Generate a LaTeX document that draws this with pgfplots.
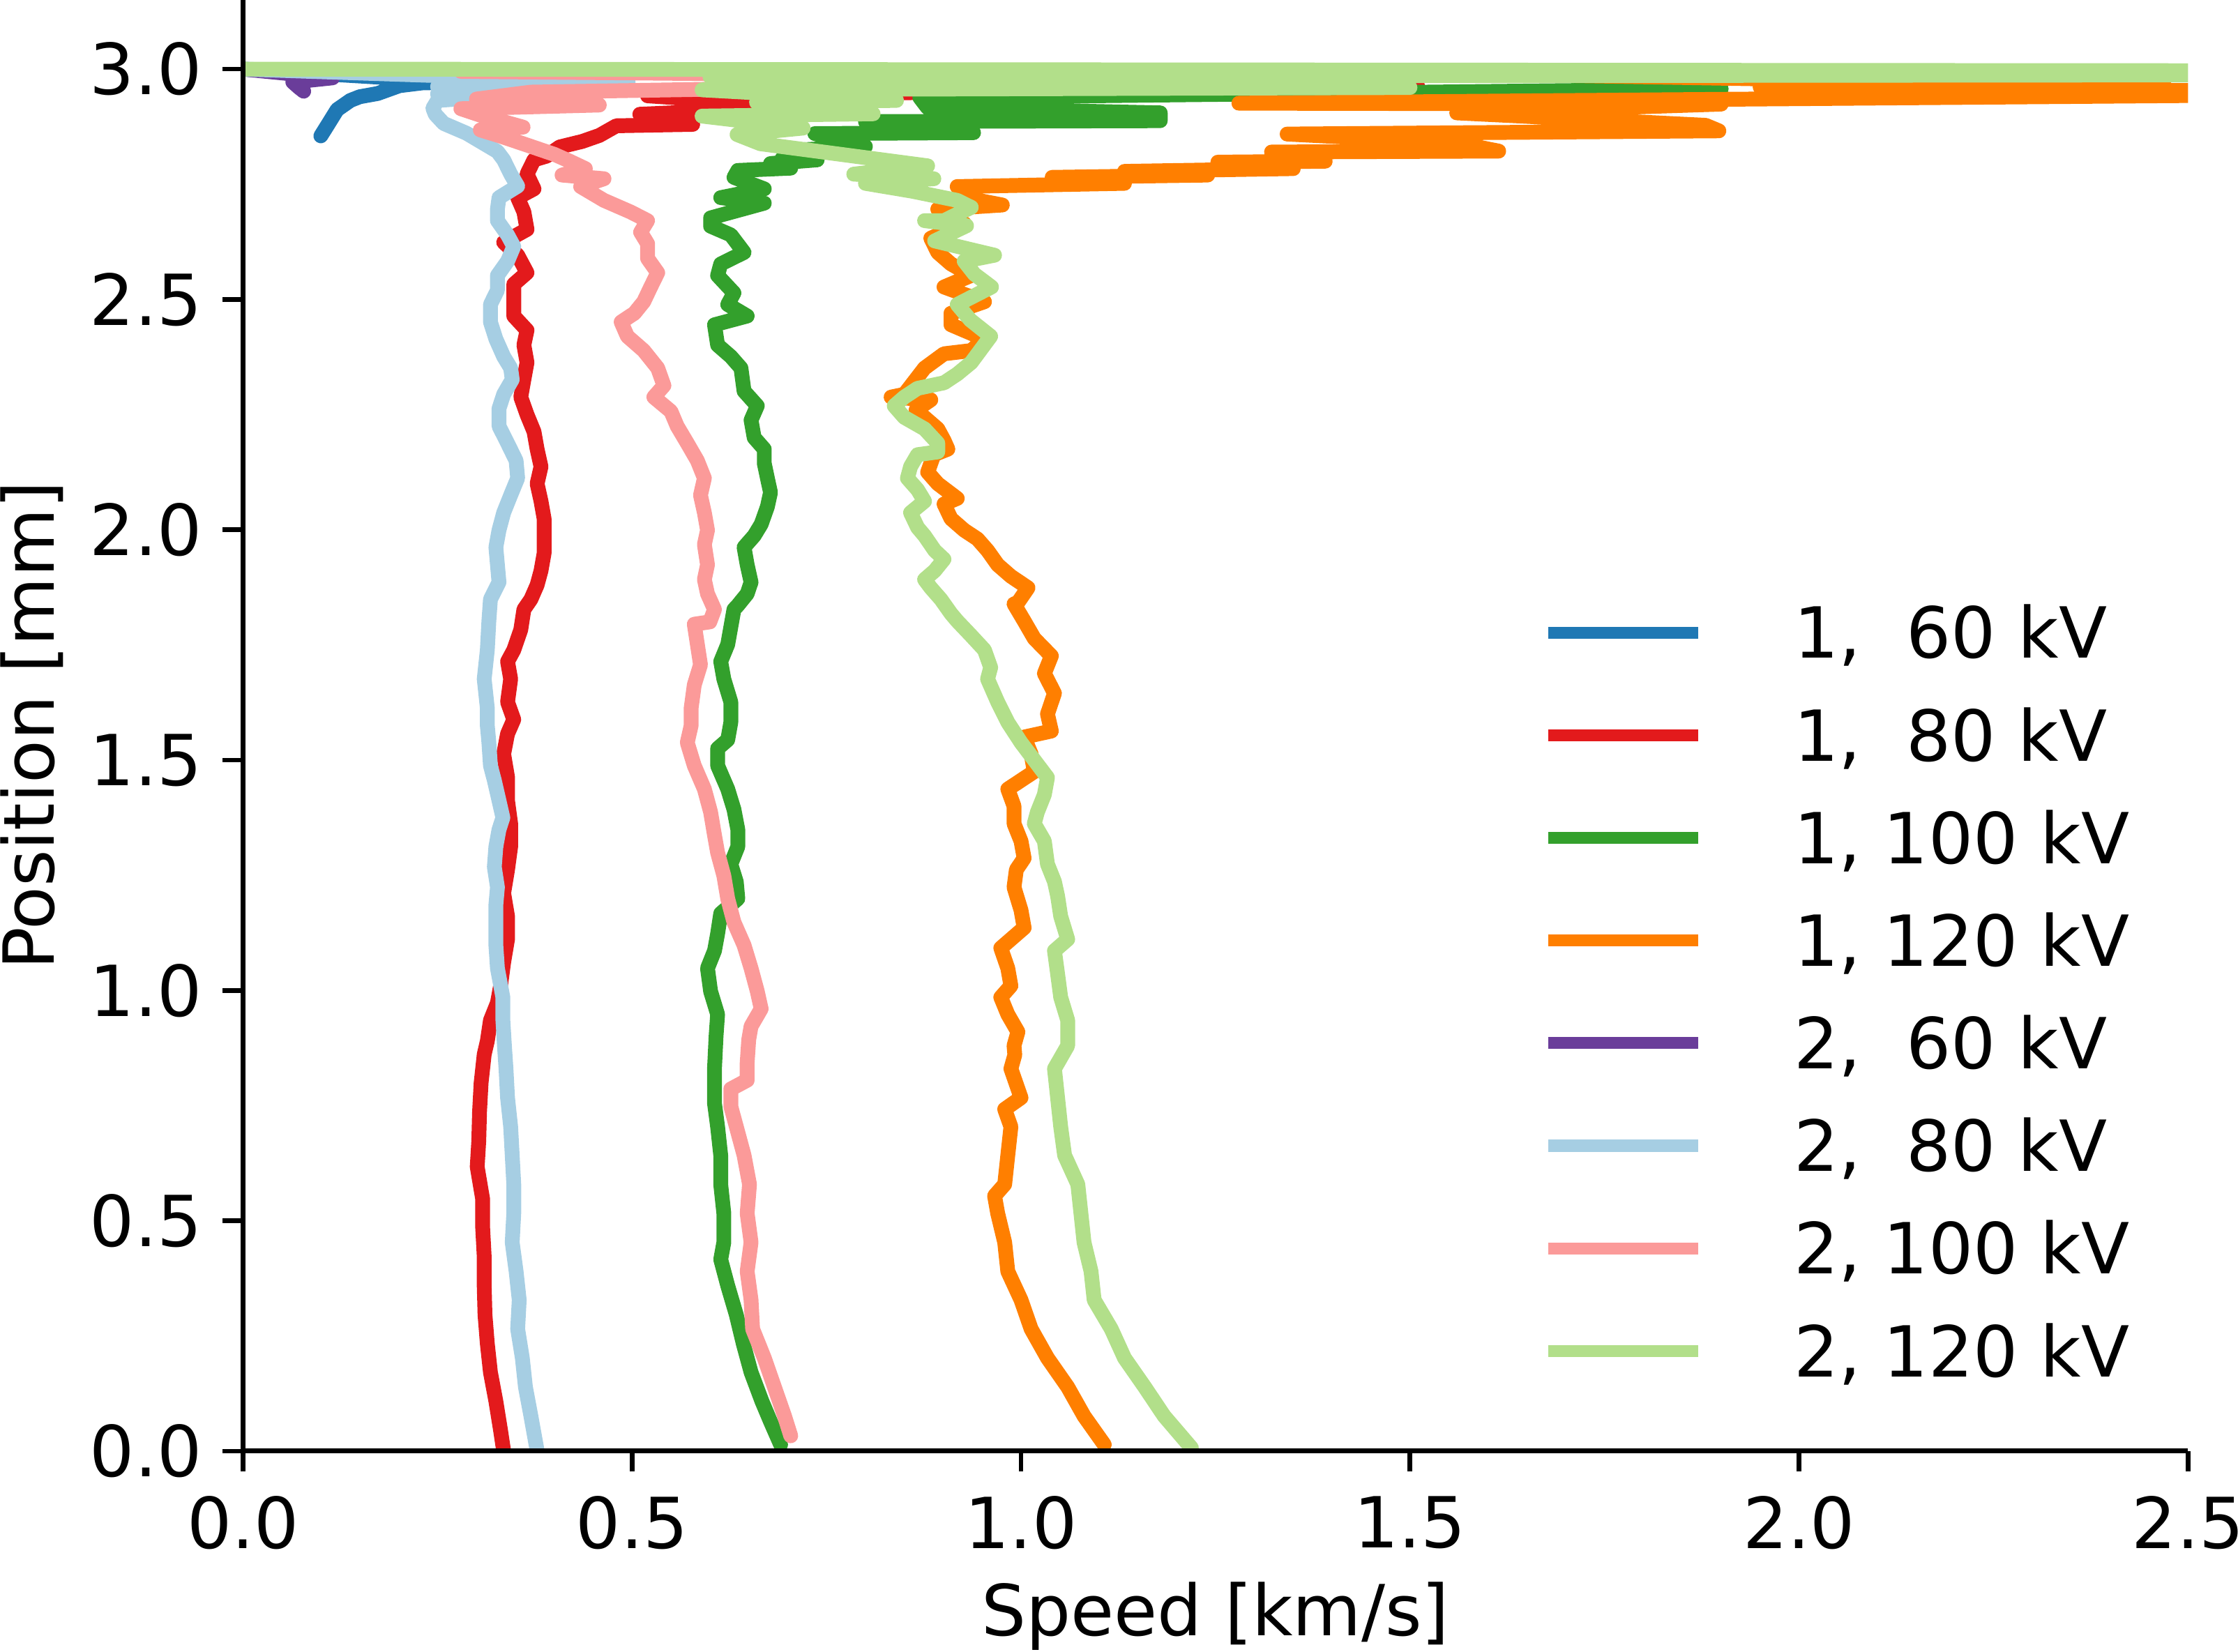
\documentclass[border=0pt]{standalone}
\usepackage{fontspec}
\setmainfont{DejaVu Sans}
\usepackage{pgfplots}
\pgfplotsset{compat=1.18}
\definecolor{c1}{HTML}{1F78B4}
\definecolor{c2}{HTML}{E31A1C}
\definecolor{c3}{HTML}{33A02C}
\definecolor{c4}{HTML}{FF7F00}
\definecolor{c5}{HTML}{6A3D9A}
\definecolor{c6}{HTML}{A6CEE3}
\definecolor{c7}{HTML}{FB9A99}
\definecolor{c8}{HTML}{B2DF8A}
\begin{document}
\begin{tikzpicture}
\begin{axis}[
  name=ax,
  width=276.1pt, height=206pt, scale only axis,
  xmin=0, xmax=2.5, ymin=0, ymax=3.15,
  axis x line*=bottom, axis y line*=left,
  axis on top,
  xtick={0,0.5,1,1.5,2,2.5}, ytick={0,0.5,1,1.5,2,2.5,3},
  tick align=outside, major tick length=2.9pt,
  every tick/.style={black, line width=0.65pt},
  axis line style={line width=0.67pt},
  /pgf/number format/assume math mode=true,
  xticklabel style={/pgf/number format/fixed, /pgf/number format/fixed zerofill, /pgf/number format/precision=1},
  yticklabel style={xshift=0.6pt, /pgf/number format/fixed, /pgf/number format/fixed zerofill, /pgf/number format/precision=1},
  xlabel={Speed [km/s]}, ylabel={Position [mm]},
  xlabel style={at={(axis description cs:0.5,-0.1136)}, anchor=center},
  ylabel style={at={(axis description cs:-0.1087,0.5)}, anchor=center},
  legend style={at={(axis description cs:0.668,0.5818)}, anchor=north west,
    draw=none, fill=none, inner sep=0pt, outer sep=0pt,
    row sep=7.27pt, column sep=0pt,
    cells={anchor=west},
    nodes={inner sep=0pt, text height=7.3pt, text depth=0pt}},
  legend image code/.code={\draw[#1, line width=1.7pt, line cap=butt] (0pt,0pt) -- (21.3pt,0pt); \path[draw=none] (0pt,0pt) -- (34.9pt,0pt);},
  every axis plot/.append style={line width=2.1pt, line join=round, line cap=round},
]
\addplot[c1] coordinates {(0,3.0) (0.28,2.972) (0.23,2.970) (0.201,2.964) (0.173,2.947) (0.15,2.940) (0.138,2.932) (0.121,2.912) (0.11,2.882) (0.10,2.855)};
\addlegendentry{1, \ 60 kV}
\addplot[c2] coordinates {(1.51,2.962) (0.52,2.942) (0.70,2.922) (0.59,2.908) (0.51,2.902) (0.578,2.880) (0.48,2.877) (0.458,2.856) (0.436,2.843) (0.407,2.831) (0.39,2.811) (0.374,2.803) (0.365,2.772) (0.374,2.740) (0.353,2.721) (0.361,2.690) (0.365,2.652) (0.335,2.624) (0.353,2.596) (0.365,2.558) (0.348,2.533) (0.348,2.502) (0.348,2.464) (0.365,2.433) (0.361,2.401) (0.365,2.363) (0.361,2.326) (0.357,2.288) (0.365,2.250) (0.374,2.213) (0.378,2.175) (0.383,2.137) (0.378,2.100) (0.383,2.062) (0.387,2.024) (0.387,1.987) (0.387,1.949) (0.383,1.911) (0.378,1.880) (0.370,1.849) (0.361,1.827) (0.357,1.783) (0.348,1.739) (0.340,1.714) (0.344,1.676) (0.340,1.626) (0.348,1.588) (0.340,1.557) (0.335,1.513) (0.340,1.463) (0.340,1.412) (0.344,1.362) (0.344,1.312) (0.340,1.262) (0.335,1.211) (0.340,1.161) (0.340,1.111) (0.335,1.061) (0.331,1.010) (0.327,0.973) (0.318,0.935) (0.314,0.890) (0.310,0.861) (0.306,0.799) (0.304,0.736) (0.303,0.673) (0.301,0.617) (0.308,0.547) (0.308,0.485) (0.310,0.422) (0.310,0.359) (0.311,0.296) (0.314,0.233) (0.318,0.171) (0.325,0.108) (0.331,0.045) (0.335,0.0)};
\addlegendentry{1, \ 80 kV}
\addplot[c3] coordinates {(1.90,2.957) (0.87,2.938) (0.88,2.916) (1.179,2.905) (1.179,2.888) (0.80,2.886) (0.939,2.862) (0.735,2.860) (0.80,2.832) (0.72,2.825) (0.693,2.806) (0.738,2.803) (0.678,2.795) (0.704,2.785) (0.636,2.780) (0.631,2.765) (0.670,2.740) (0.614,2.721) (0.670,2.709) (0.601,2.677) (0.601,2.659) (0.627,2.640) (0.644,2.602) (0.614,2.577) (0.610,2.552) (0.631,2.514) (0.623,2.489) (0.648,2.464) (0.606,2.445) (0.610,2.401) (0.627,2.376) (0.640,2.351) (0.644,2.301) (0.661,2.269) (0.653,2.238) (0.657,2.200) (0.670,2.175) (0.670,2.144) (0.674,2.112) (0.678,2.081) (0.674,2.050) (0.666,2.012) (0.657,1.987) (0.644,1.962) (0.648,1.924) (0.653,1.886) (0.648,1.861) (0.636,1.836) (0.631,1.827) (0.627,1.789) (0.623,1.751) (0.614,1.714) (0.618,1.676) (0.627,1.626) (0.627,1.582) (0.623,1.544) (0.610,1.525) (0.610,1.488) (0.623,1.437) (0.631,1.393) (0.636,1.349) (0.636,1.312) (0.627,1.274) (0.634,1.236) (0.636,1.199) (0.614,1.167) (0.610,1.123) (0.606,1.086) (0.597,1.048) (0.601,0.998) (0.610,0.948) (0.608,0.900) (0.606,0.830) (0.606,0.755) (0.610,0.704) (0.614,0.642) (0.614,0.579) (0.618,0.516) (0.618,0.453) (0.614,0.416) (0.623,0.359) (0.634,0.296) (0.643,0.233) (0.653,0.171) (0.667,0.108) (0.678,0.064) (0.691,0.014)};
\addlegendentry{1, 100 kV}
\addplot[c4] coordinates {(1.38,2.996) (2.47,2.963) (1.95,2.961) (2.9,2.948) (1.28,2.926) (1.90,2.924) (1.56,2.905) (1.88,2.878) (1.897,2.866) (1.342,2.859) (1.56,2.840) (1.614,2.822) (1.322,2.820) (1.391,2.800) (1.253,2.798) (1.35,2.784) (1.133,2.778) (1.24,2.770) (1.04,2.765) (1.133,2.752) (0.918,2.745) (0.93,2.720) (0.976,2.705) (0.893,2.696) (0.927,2.665) (0.884,2.633) (0.893,2.602) (0.910,2.577) (0.936,2.552) (0.901,2.527) (0.953,2.495) (0.910,2.470) (0.910,2.445) (0.953,2.414) (0.936,2.389) (0.901,2.382) (0.876,2.351) (0.850,2.294) (0.833,2.288) (0.884,2.282) (0.865,2.260) (0.893,2.219) (0.901,2.194) (0.906,2.175) (0.888,2.163) (0.880,2.125) (0.893,2.100) (0.918,2.068) (0.901,2.056) (0.910,2.024) (0.927,1.999) (0.944,1.980) (0.957,1.955) (0.970,1.924) (0.987,1.899) (1.009,1.874) (0.996,1.842) (0.991,1.839) (1.004,1.802) (1.017,1.764) (1.039,1.726) (1.030,1.688) (1.043,1.645) (1.034,1.600) (1.039,1.563) (1.004,1.550) (1.013,1.513) (1.017,1.475) (0.983,1.437) (0.991,1.400) (0.991,1.362) (1.000,1.324) (1.004,1.287) (0.994,1.262) (0.991,1.224) (1.000,1.174) (1.004,1.136) (0.974,1.092) (0.983,1.048) (0.987,1.010) (0.974,0.985) (0.983,0.948) (0.996,0.910) (0.991,0.880) (0.992,0.860) (0.987,0.830) (1.000,0.767) (0.979,0.742) (0.987,0.704) (0.983,0.642) (0.979,0.579) (0.966,0.554) (0.970,0.516) (0.979,0.453) (0.983,0.390) (1.000,0.328) (1.013,0.265) (1.034,0.202) (1.060,0.139) (1.081,0.076) (1.107,0.014)};
\addlegendentry{1, 120 kV}
\addplot[c5] coordinates {(0,3.0) (0.115,2.981) (0.064,2.972) (0.072,2.960) (0.078,2.952)};
\addlegendentry{2, \ 60 kV}
\addplot[c6] coordinates {(0,3.0) (0.495,2.972) (0.25,2.962) (0.30,2.955) (0.25,2.946) (0.32,2.940) (0.25,2.932) (0.244,2.915) (0.247,2.902) (0.258,2.882) (0.287,2.861) (0.307,2.841) (0.327,2.821) (0.335,2.803) (0.344,2.772) (0.353,2.746) (0.329,2.721) (0.327,2.696) (0.327,2.671) (0.340,2.640) (0.348,2.615) (0.340,2.583) (0.327,2.552) (0.327,2.520) (0.318,2.489) (0.318,2.451) (0.325,2.414) (0.335,2.376) (0.344,2.351) (0.346,2.326) (0.335,2.294) (0.329,2.263) (0.329,2.225) (0.340,2.188) (0.351,2.150) (0.353,2.112) (0.344,2.075) (0.335,2.037) (0.329,1.999) (0.325,1.962) (0.327,1.924) (0.329,1.886) (0.318,1.849) (0.316,1.802) (0.314,1.739) (0.310,1.676) (0.314,1.613) (0.314,1.575) (0.316,1.538) (0.318,1.488) (0.323,1.456) (0.329,1.412) (0.334,1.375) (0.329,1.349) (0.325,1.312) (0.323,1.268) (0.327,1.224) (0.325,1.186) (0.325,1.142) (0.325,1.098) (0.327,1.048) (0.334,0.985) (0.334,0.935) (0.336,0.880) (0.338,0.830) (0.340,0.767) (0.344,0.704) (0.346,0.642) (0.348,0.579) (0.348,0.516) (0.346,0.453) (0.351,0.390) (0.355,0.328) (0.353,0.265) (0.359,0.202) (0.363,0.139) (0.370,0.076) (0.378,0.001)};
\addlegendentry{2, \ 80 kV}
\addplot[c7] coordinates {(0.28,2.995) (0.87,2.986) (0.59,2.956) (0.37,2.950) (0.30,2.935) (0.458,2.922) (0.28,2.914) (0.305,2.900) (0.36,2.874) (0.305,2.868) (0.33,2.855) (0.36,2.838) (0.40,2.815) (0.42,2.800) (0.44,2.784) (0.41,2.770) (0.464,2.762) (0.434,2.745) (0.464,2.715) (0.498,2.690) (0.520,2.671) (0.511,2.646) (0.520,2.621) (0.520,2.589) (0.533,2.558) (0.524,2.527) (0.515,2.495) (0.503,2.470) (0.486,2.451) (0.494,2.420) (0.515,2.389) (0.533,2.351) (0.541,2.313) (0.528,2.288) (0.550,2.257) (0.558,2.225) (0.571,2.188) (0.584,2.150) (0.593,2.112) (0.588,2.075) (0.593,2.037) (0.597,1.999) (0.593,1.968) (0.597,1.924) (0.593,1.892) (0.597,1.861) (0.606,1.827) (0.600,1.800) (0.580,1.795) (0.584,1.751) (0.588,1.707) (0.580,1.663) (0.576,1.613) (0.576,1.575) (0.571,1.538) (0.580,1.488) (0.593,1.437) (0.601,1.387) (0.606,1.337) (0.610,1.299) (0.618,1.249) (0.623,1.199) (0.631,1.148) (0.644,1.098) (0.653,1.048) (0.661,0.998) (0.666,0.960) (0.653,0.922) (0.650,0.893) (0.648,0.843) (0.648,0.805) (0.627,0.786) (0.627,0.748) (0.636,0.692) (0.644,0.642) (0.651,0.579) (0.648,0.516) (0.653,0.453) (0.648,0.390) (0.653,0.328) (0.655,0.265) (0.670,0.202) (0.683,0.139) (0.696,0.076) (0.704,0.033)};
\addlegendentry{2, 100 kV}
\addplot[c8] coordinates {(0,3.0) (2.9,2.996) (2.9,2.988) (0.60,2.984) (1.50,2.960) (0.59,2.955) (0.84,2.932) (0.66,2.928) (0.81,2.903) (0.59,2.898) (0.72,2.872) (0.635,2.858) (0.665,2.838) (0.88,2.790) (0.785,2.772) (0.888,2.762) (0.80,2.752) (0.86,2.735) (0.918,2.715) (0.936,2.700) (0.901,2.671) (0.876,2.671) (0.93,2.660) (0.889,2.627) (0.936,2.608) (0.966,2.596) (0.927,2.583) (0.940,2.555) (0.962,2.527) (0.918,2.489) (0.935,2.455) (0.961,2.420) (0.936,2.363) (0.918,2.338) (0.901,2.319) (0.867,2.307) (0.850,2.288) (0.837,2.269) (0.850,2.244) (0.876,2.219) (0.893,2.188) (0.893,2.169) (0.867,2.163) (0.858,2.137) (0.854,2.112) (0.867,2.087) (0.876,2.062) (0.858,2.037) (0.867,2.005) (0.876,1.987) (0.889,1.955) (0.901,1.936) (0.889,1.911) (0.876,1.892) (0.884,1.874) (0.897,1.849) (0.910,1.818) (0.918,1.802) (0.936,1.770) (0.953,1.739) (0.961,1.701) (0.957,1.676) (0.970,1.626) (0.983,1.582) (1.000,1.538) (1.017,1.500) (1.034,1.462) (1.030,1.425) (1.021,1.387) (1.017,1.362) (1.030,1.324) (1.034,1.274) (1.043,1.236) (1.047,1.205) (1.051,1.161) (1.060,1.111) (1.043,1.086) (1.047,1.036) (1.051,0.985) (1.060,0.935) (1.060,0.880) (1.043,0.830) (1.047,0.767) (1.051,0.704) (1.056,0.642) (1.073,0.579) (1.077,0.516) (1.081,0.453) (1.090,0.390) (1.094,0.328) (1.116,0.265) (1.133,0.202) (1.159,0.139) (1.184,0.076) (1.219,0.007)};
\addlegendentry{2, 120 kV}
\end{axis}
\pgfresetboundingbox
\path ([shift={(-34.5pt,-28.5pt)}]ax.south west) rectangle ([shift={(7.1pt,0pt)}]ax.north east);
\end{tikzpicture}
\end{document}
